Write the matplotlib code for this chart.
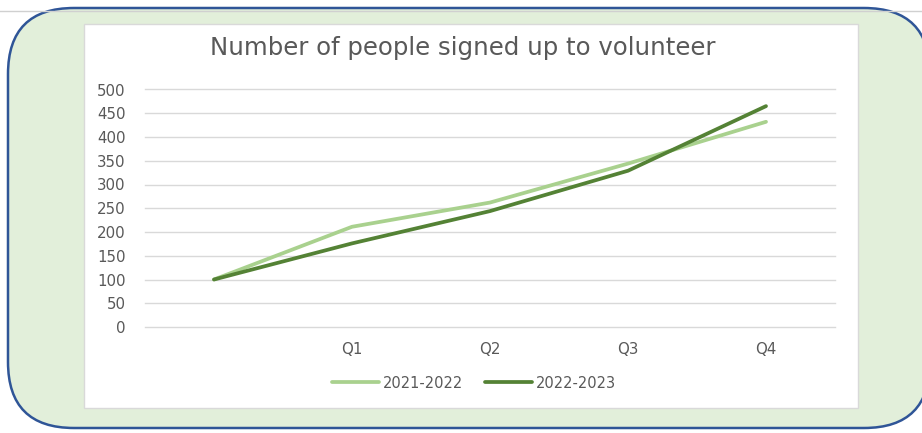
import matplotlib.pyplot as plt
from matplotlib.patches import FancyBboxPatch, Rectangle

quarters = ["", "Q1", "Q2", "Q3", "Q4"]
signups_2122 = [100, 211, 262, 344, 432]
signups_2223 = [100, 176, 244, 329, 465]
y_ticks = list(range(0, 501, 50))

LIGHT = "#A9D18E"
DARK = "#548235"
TEXT = "#595959"
GRID = "#D9D9D9"

plt.rcParams["font.family"] = ["DejaVu Sans"]

W, H = 922, 433
fig = plt.figure(figsize=(W / 100, H / 100), dpi=100)

# background layer in pixel units (y grows downward)
bg = fig.add_axes([0, 0, 1, 1])
bg.set_xlim(0, W)
bg.set_ylim(H, 0)
bg.axis("off")
bg.plot([0, W], [11, 11], color="#D0D0D0", lw=1)
card = FancyBboxPatch((8, 8), 922, 420, boxstyle="round,pad=0,rounding_size=66",
                      facecolor="#E2EFDA", edgecolor="#2F5597", lw=1.8)
bg.add_patch(card)
bg.add_patch(Rectangle((84, 24), 774, 384, facecolor="white",
                       edgecolor=GRID, lw=1))

ax = fig.add_axes([145 / W, (H - 327) / H, 690 / W, 237.5 / H])
ax.set_facecolor("none")
x = range(len(quarters))
ax.plot(x, signups_2122, color=LIGHT, lw=2.7, label="2021-2022",
        solid_capstyle="round", solid_joinstyle="round")
ax.plot(x, signups_2223, color=DARK, lw=2.7, label="2022-2023",
        solid_capstyle="round", solid_joinstyle="round")

ax.set_xlim(-0.5, len(quarters) - 0.5)
ax.set_ylim(0, 500)
ax.set_yticks(y_ticks)
ax.set_xticks(list(x))
ax.set_xticklabels(quarters)
ax.yaxis.grid(True, color=GRID, lw=1)
for gl in ax.get_ygridlines():
    gl.set_clip_on(False)
ax.set_axisbelow(True)
for s in ax.spines.values():
    s.set_visible(False)
ax.tick_params(length=0, colors=TEXT, labelsize=10.8)
ax.tick_params(axis="y", pad=14)
ax.tick_params(axis="x", pad=11)

fig.text(463 / W, 1 - 48 / H, "Number of people signed up to volunteer",
         ha="center", va="center", fontsize=17.6, color=TEXT)

leg = ax.legend(loc="center", bbox_to_anchor=(474 / W, 1 - 383 / H),
                bbox_transform=fig.transFigure, ncol=2, frameon=False,
                fontsize=10.5, handlelength=3.2, handletextpad=0.3,
                columnspacing=1.5)
for t in leg.get_texts():
    t.set_color(TEXT)

fig.savefig("out.png", dpi=100)
